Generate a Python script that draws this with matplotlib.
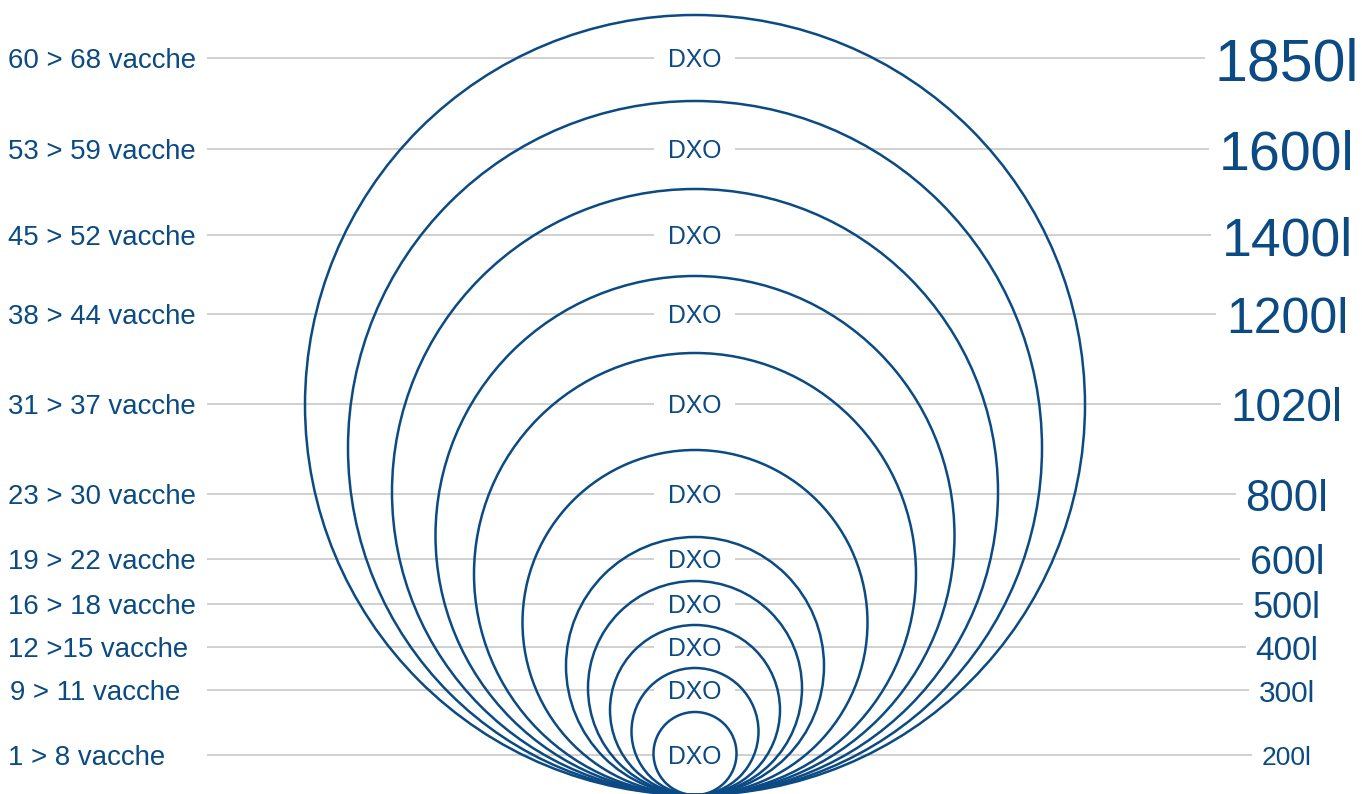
import matplotlib
matplotlib.use("Agg")
import matplotlib.pyplot as plt
from matplotlib.patches import Circle

# ---- data ----
herd_labels = ["60 > 68 vacche", "53 > 59 vacche", "45 > 52 vacche", "38 > 44 vacche",
               "31 > 37 vacche", "23 > 30 vacche", "19 > 22 vacche", "16 > 18 vacche",
               "12 >15 vacche", "9 > 11 vacche", "1 > 8 vacche"]
capacities = [1850, 1600, 1400, 1200, 1020, 800, 600, 500, 400, 300, 200]
model_name = "DXO"

# ---- layout (pixel coordinates) ----
W, H = 1362, 794
row_y = [58, 149, 235, 314, 404, 494, 559, 604, 647, 690, 755]
circle_top = [15, 101, 189, 276, 353, 450, 537, 581, 625, 668, 712]
circle_bottom = 795
cx = 695
right_sizes = [42.5, 40, 38.5, 36, 33, 31.5, 28.5, 26, 24, 21.5, 19]
left_x = [8, 8, 8, 8, 8, 8, 8, 8, 8, 10, 8]

BLUE = "#0b4a82"
GRAY = "#c4c4c4"
FONT = ["Liberation Sans", "DejaVu Sans"]

fig = plt.figure(figsize=(W / 100, H / 100), dpi=100)
ax = fig.add_axes([0, 0, 1, 1])
ax.set_xlim(0, W)
ax.set_ylim(H, 0)
ax.axis("off")

renderer = fig.canvas.get_renderer()


def base(y, fs):
    # baseline so that the cap height is centred on y
    return y + 0.358 * fs * 100 / 72


for lab, cap, y, top, fs, lx in zip(herd_labels, capacities, row_y, circle_top, right_sizes, left_x):
    ax.text(lx, base(y, 19.9), lab, ha="left", va="baseline", fontsize=19.9, color=BLUE, family=FONT)
    ax.text(694.5, base(y, 17.8), model_name, ha="center", va="baseline", fontsize=17.8,
            color=BLUE, family=FONT)
    t = ax.text(1287, base(y + 1, fs), f"{cap}l", ha="center", va="baseline", fontsize=fs,
                color=BLUE, family=FONT)
    bb = t.get_window_extent(renderer=renderer)
    x_left = bb.x0
    ax.plot([207, 654], [y, y], color=GRAY, lw=1.1, zorder=1, solid_capstyle="butt")
    ax.plot([735, x_left - 10], [y, y], color=GRAY, lw=1.1, zorder=1, solid_capstyle="butt")
    r = (circle_bottom - top) / 2
    ax.add_patch(Circle((cx, top + r), r, fill=False, edgecolor=BLUE, lw=1.8, zorder=2))

fig.savefig("out.png", dpi=100, facecolor="white")
